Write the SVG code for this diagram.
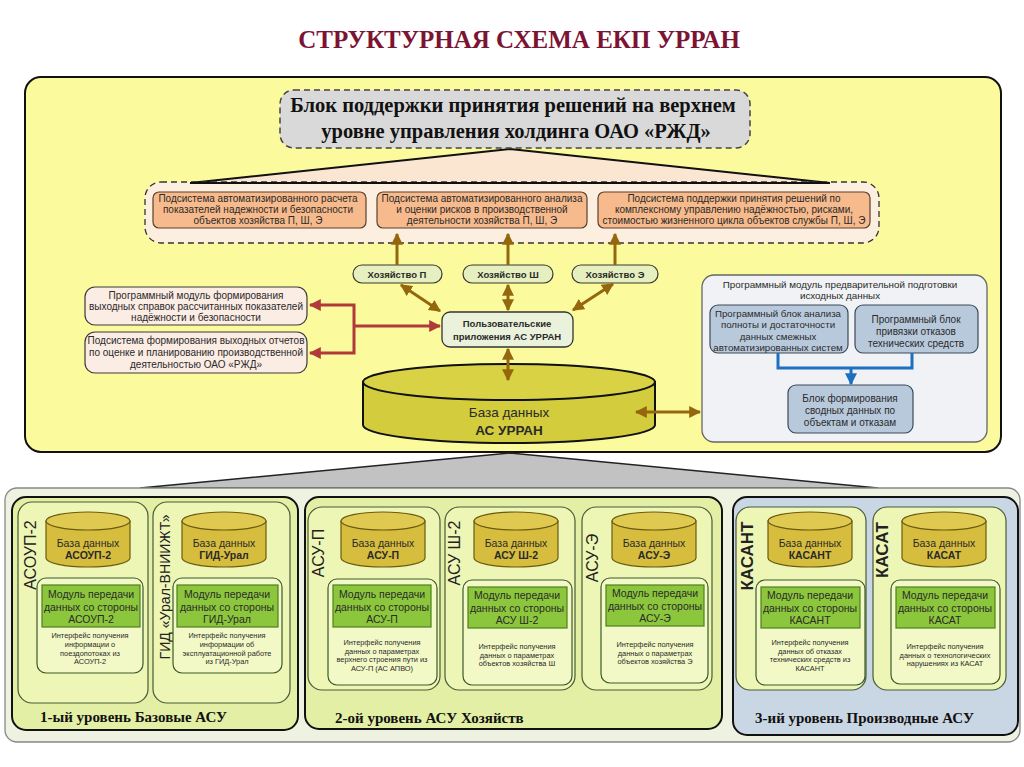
<svg xmlns="http://www.w3.org/2000/svg" width="1024" height="767" viewBox="0 0 1024 767">
<defs>
<style>
.t{font-family:"Liberation Sans",Arial,sans-serif;fill:#2a2a2a;text-anchor:middle}
.b{font-weight:bold}
.hd{font-family:"Liberation Serif","Times New Roman",serif;font-weight:bold;fill:#111}
.f95{font-size:9.5px}
.f10{font-size:10px}
.f105{font-size:10.5px}
.f75{font-size:7.4px}
.orange{fill:#f7ba8c;stroke:#5a4030;stroke-width:1.2}
.pill{fill:#e6efc0;stroke:#3a3a2a;stroke-width:1.2}
.pink{fill:#fbece4;stroke:#3a3a3a;stroke-width:1.2}
.bluebox{fill:#b9c9dc;stroke:#3a4a5a;stroke-width:1.2}
.grp{fill:#e3efa4;stroke:#111;stroke-width:2}
.col{fill:#edf6b4;stroke:#4a5a3a;stroke-width:1.2}
.inner{fill:#f3f9c6;stroke:#3a5a2a;stroke-width:1.2}
.green{fill:#8cc63c;stroke:#4f7f1f;stroke-width:1.2}
.cyl{fill:#d7bd3e;stroke:#6a5a10;stroke-width:1.2}
.cyltop{fill:#e0c950;stroke:#6a5a10;stroke-width:1.2}
.br{stroke:#94670f;stroke-width:3;fill:none}
.rd{stroke:#b03a3a;stroke-width:3;fill:none}
.bl{stroke:#1f6fc0;stroke-width:3;fill:none}
.sr{stroke:#d2461c;stroke-width:2.5;fill:none}
.vl{font-family:"Liberation Sans",Arial,sans-serif;fill:#222;text-anchor:middle;font-size:16px}
</style>
<marker id="ab" viewBox="0 0 10 10" refX="9" refY="5" markerWidth="4" markerHeight="4" orient="auto-start-reverse"><path d="M0,0 L10,5 L0,10 z" fill="#94670f"/></marker>
<marker id="ar" viewBox="0 0 10 10" refX="9" refY="5" markerWidth="4" markerHeight="4" orient="auto-start-reverse"><path d="M0,0 L10,5 L0,10 z" fill="#b03a3a"/></marker>
<marker id="abl" viewBox="0 0 10 10" refX="9" refY="5" markerWidth="4" markerHeight="4" orient="auto"><path d="M0,0 L10,5 L0,10 z" fill="#1f6fc0"/></marker>
<marker id="asr" viewBox="0 0 10 10" refX="9" refY="5" markerWidth="4" markerHeight="4" orient="auto"><path d="M0,0 L10,5 L0,10 z" fill="#d2461c"/></marker>
</defs>
<rect width="1024" height="767" fill="#ffffff"/>
<text x="519" y="48" class="hd" style="font-size:25px;fill:#7c1333;text-anchor:middle">СТРУКТУРНАЯ СХЕМА ЕКП УРРАН</text>

<!-- main panel -->
<g id="main-panel">
<rect x="25" y="77" width="976" height="375" rx="16" fill="#fbfa9c" stroke="#111" stroke-width="2"/>
</g>

<!-- funnels -->
<g id="funnels">
<path d="M510,149 L190,183 L830,183 Z" fill="#fbe6d2" stroke="none"/>
<path d="M190,183 L510,149 L830,183" fill="none" stroke="#111" stroke-width="2"/>
<path d="M510,453 L140,488 L878,488 Z" fill="#c2c2c2" stroke="#222" stroke-width="1.5"/>
</g>

<g id="top-block">
<rect x="280" y="90" width="470" height="58" rx="14" fill="#d9d9d9" stroke="#444" stroke-width="1.5" stroke-dasharray="6,4"/>
<text x="513" y="112" class="hd" style="font-size:20.5px;text-anchor:middle">Блок поддержки принятия решений на верхнем</text>
<text x="516" y="138" class="hd" style="font-size:20.5px;text-anchor:middle">уровне управления холдинга ОАО «РЖД»</text>
</g>

<g id="subsystems">
<rect x="145" y="182" width="734" height="61" rx="16" fill="#fcefe0" stroke="#333" stroke-width="1.3" stroke-dasharray="6,4"/>
<line x1="190" y1="183" x2="830" y2="183" stroke="#111" stroke-width="2"/>
</g>

<g id="sub1">
<rect x="153" y="192" width="213" height="36" rx="6" class="orange"/>
<text class="t f10"><tspan x="258" y="202">Подсистема автоматизированного расчета</tspan><tspan x="258" y="213">показателей надежности и безопасности</tspan><tspan x="258" y="224">объектов хозяйства П, Ш, Э</tspan></text>
</g>
<g id="sub2">
<rect x="377" y="192" width="210" height="36" rx="6" class="orange"/>
<text class="t f10"><tspan x="482" y="202">Подсистема автоматизированного анализа</tspan><tspan x="482" y="213">и оценки рисков в производственной</tspan><tspan x="482" y="224">деятельности хозяйства П, Ш, Э</tspan></text>
</g>
<g id="sub3">
<rect x="598" y="192" width="272" height="36" rx="6" class="orange"/>
<text class="t f10"><tspan x="734" y="202">Подсистема поддержки принятия решений по</tspan><tspan x="734" y="213">комплексному управлению надёжностью, рисками,</tspan><tspan x="734" y="224">стоимостью жизненного цикла объектов службы П, Ш, Э</tspan></text>
</g>

<g id="hoz-p">
<rect x="353" y="265" width="89" height="18" rx="9" class="pill"/>
<text x="397" y="277.5" class="t b f95">Хозяйство П</text>
</g>
<g id="hoz-sh">
<rect x="463" y="265" width="90" height="18" rx="9" class="pill"/>
<text x="508" y="277.5" class="t b f95">Хозяйство Ш</text>
</g>
<g id="hoz-e">
<rect x="572" y="265" width="86" height="18" rx="9" class="pill"/>
<text x="615" y="277.5" class="t b f95">Хозяйство Э</text>
</g>

<g id="user-apps">
<rect x="442" y="312" width="131" height="35" rx="8" fill="#eaf2dc" stroke="#333" stroke-width="1.3"/>
<text class="t b f95"><tspan x="507" y="327">Пользовательские</tspan><tspan x="507" y="340">приложения АС УРРАН</tspan></text>
</g>

<g id="out-module">
<rect x="85" y="287" width="222" height="38" rx="10" class="pink"/>
<text class="t f10"><tspan x="196" y="299">Программный модуль формирования</tspan><tspan x="196" y="310">выходных справок рассчитанных показателей</tspan><tspan x="196" y="321">надёжности и безопасности</tspan></text>
</g>
<g id="out-reports">
<rect x="85" y="332" width="222" height="41" rx="10" class="pink"/>
<text class="t f10"><tspan x="196" y="344">Подсистема формирования выходных отчетов</tspan><tspan x="196" y="356">по оценке и планированию производственной</tspan><tspan x="196" y="368">деятельностью ОАО «РЖД»</tspan></text>
</g>

<g id="db-main">
<path d="M363,382 L363,425 A146,18 0 0 0 655,425 L655,382 Z" fill="#d3cc3c" stroke="#111" stroke-width="2"/>
<ellipse cx="509" cy="382" rx="146" ry="18" fill="#d8d244" stroke="#111" stroke-width="2"/>
<text x="509" y="417" class="t" style="font-size:13.5px">База данных</text>
<text x="509" y="435" class="t b" style="font-size:13.5px">АС УРРАН</text>
</g>

<g id="prep-module">
<rect x="702" y="275" width="285" height="167" rx="12" fill="#f0f2f5" stroke="#666" stroke-width="1.3"/>
<text class="t" style="font-size:9.8px"><tspan x="840" y="288">Программный модуль предварительной подготовки</tspan><tspan x="840" y="299">исходных данных</tspan></text>
</g>
<g id="prep-b1">
<rect x="710" y="305" width="138" height="48" rx="8" class="bluebox"/>
<text class="t" style="font-size:9.7px"><tspan x="778" y="317">Программный блок анализа</tspan><tspan x="778" y="328">полноты и достаточности</tspan><tspan x="778" y="340">данных смежных</tspan><tspan x="778" y="351">автоматизированных систем</tspan></text>
</g>
<g id="prep-b2">
<rect x="855" y="305" width="123" height="48" rx="8" class="bluebox"/>
<text class="t f10"><tspan x="916" y="323">Программный блок</tspan><tspan x="916" y="335">привязки отказов</tspan><tspan x="916" y="347">технических средств</tspan></text>
</g>
<g id="prep-b3">
<rect x="788" y="385" width="125" height="48" rx="8" class="bluebox"/>
<text class="t f10"><tspan x="850" y="402">Блок формирования</tspan><tspan x="850" y="414">сводных данных по</tspan><tspan x="850" y="426">объектам и отказам</tspan></text>
</g>

<!-- connectors -->
<g id="connectors">
<line x1="397" y1="265" x2="397" y2="234" class="br" marker-end="url(#ab)"/>
<line x1="508" y1="265" x2="508" y2="234" class="br" marker-end="url(#ab)"/>
<line x1="615" y1="265" x2="615" y2="234" class="br" marker-end="url(#ab)"/>
<line x1="401" y1="285" x2="440" y2="311" class="br" marker-start="url(#ab)" marker-end="url(#ab)"/>
<line x1="508" y1="285" x2="508" y2="310" class="br" marker-start="url(#ab)" marker-end="url(#ab)"/>
<line x1="613" y1="284" x2="573" y2="310" class="br" marker-start="url(#ab)" marker-end="url(#ab)"/>
<line x1="508" y1="349" x2="508" y2="380" class="br" marker-start="url(#ab)" marker-end="url(#ab)"/>
<line x1="636" y1="412" x2="700" y2="412" class="br" marker-start="url(#ab)" marker-end="url(#ab)"/>
<line x1="354" y1="326" x2="440" y2="326" class="rd" marker-end="url(#ar)"/>
<path d="M310,305 L354,305 L354,353 L310,353" class="rd" marker-start="url(#ar)" marker-end="url(#ar)"/>
<path d="M778,353 L778,368 L912,368 L912,353" class="bl"/>
<line x1="851" y1="368" x2="851" y2="384" class="bl" marker-end="url(#abl)"/>
<line x1="88" y1="567" x2="88" y2="585" class="sr" marker-end="url(#asr)"/>
<line x1="224" y1="567" x2="224" y2="585" class="sr" marker-end="url(#asr)"/>
<line x1="383" y1="567" x2="383" y2="585" class="sr" marker-end="url(#asr)"/>
<line x1="516" y1="567" x2="516" y2="586" class="sr" marker-end="url(#asr)"/>
<line x1="654" y1="567" x2="654" y2="584" class="sr" marker-end="url(#asr)"/>
<line x1="810" y1="567" x2="810" y2="586" class="sr" marker-end="url(#asr)"/>
<line x1="944" y1="567" x2="944" y2="586" class="sr" marker-end="url(#asr)"/>
</g>

<!-- bottom -->
<g id="bottom-frame">
<rect x="5" y="488" width="1015" height="254" rx="12" fill="#eef2e0" stroke="#888" stroke-width="1.3"/>
</g>

<g id="level1">
<rect x="12" y="497" width="286" height="233" rx="14" class="grp"/>
<rect x="18" y="502" width="130" height="201" rx="14" class="col"/>
<rect x="153" y="502" width="137" height="201" rx="14" class="col"/>
<text x="40" y="722" class="hd" style="font-size:15px">1-ый уровень Базовые АСУ</text>
<text transform="translate(36,555) rotate(-90)" class="vl">АСОУП-2</text>
<text transform="translate(170,587) rotate(-90)" class="vl" style="font-size:15px" textLength="145" lengthAdjust="spacingAndGlyphs">ГИД «Урал-ВНИИЖТ»</text>
</g>
<g id="level2">
<rect x="305" y="497" width="417" height="232" rx="14" class="grp"/>
<rect x="308" y="507" width="132" height="183" rx="14" class="col"/>
<rect x="445" y="507" width="130" height="183" rx="14" class="col"/>
<rect x="582" y="507" width="130" height="183" rx="14" class="col"/>
<text x="335" y="723" class="hd" style="font-size:15px">2-ой уровень АСУ Хозяйств</text>
<text transform="translate(324,553) rotate(-90)" class="vl">АСУ-П</text>
<text transform="translate(460,553) rotate(-90)" class="vl">АСУ Ш-2</text>
<text transform="translate(598,558) rotate(-90)" class="vl">АСУ-Э</text>
</g>
<g id="level3">
<rect x="733" y="497" width="285" height="238" rx="14" fill="#c9d6e4" stroke="#111" stroke-width="2"/>
<rect x="736" y="507" width="130" height="183" rx="14" class="col"/>
<rect x="873" y="507" width="133" height="183" rx="14" class="col"/>
<text x="755" y="723" class="hd" style="font-size:15px">3-ий уровень Производные АСУ</text>
<text transform="translate(753,556) rotate(-90)" class="vl b" style="font-size:17px">КАСАНТ</text>
<text transform="translate(888,550) rotate(-90)" class="vl b" style="font-size:17px">КАСАТ</text>
</g>

<g id="asoup">
<path d="M46,521 L46,558 A42,9 0 0 0 130,558 L130,521 Z" class="cyl"/>
<ellipse cx="88" cy="521" rx="42" ry="9" class="cyltop"/>
<text x="88" y="547" class="t f105">База данных</text><text x="88" y="559" class="t b f105">АСОУП-2</text>
<rect x="37" y="578" width="106" height="95" rx="9" class="inner"/>
<rect x="42" y="585" width="98" height="42" class="green"/>
<text class="t f105"><tspan x="91" y="598">Модуль передачи</tspan><tspan x="91" y="611">данных со стороны</tspan><tspan x="91" y="623">АСОУП-2</tspan></text>
<text class="t f75"><tspan x="90" y="638">Интерфейс получения</tspan><tspan x="90" y="647">информации о</tspan><tspan x="90" y="655.5">поездопотоках из</tspan><tspan x="90" y="664">АСОУП-2</tspan></text>
</g>
<g id="gid">
<path d="M182,521 L182,558 A42,9 0 0 0 266,558 L266,521 Z" class="cyl"/>
<ellipse cx="224" cy="521" rx="42" ry="9" class="cyltop"/>
<text x="224" y="547" class="t f105">База данных</text><text x="224" y="559" class="t b f105">ГИД-Урал</text>
<rect x="173" y="578" width="109" height="95" rx="9" class="inner"/>
<rect x="177" y="585" width="101" height="42" class="green"/>
<text class="t f105"><tspan x="227" y="598">Модуль передачи</tspan><tspan x="227" y="611">данных со стороны</tspan><tspan x="227" y="623">ГИД-Урал</tspan></text>
<text class="t f75"><tspan x="227" y="638">Интерфейс получения</tspan><tspan x="227" y="647">информации об</tspan><tspan x="227" y="655.5">эксплуатационной работе</tspan><tspan x="227" y="664">из ГИД-Урал</tspan></text>
</g>
<g id="asu-p">
<path d="M341,521 L341,558 A42,9 0 0 0 425,558 L425,521 Z" class="cyl"/>
<ellipse cx="383" cy="521" rx="42" ry="9" class="cyltop"/>
<text x="383" y="547" class="t f105">База данных</text><text x="383" y="559" class="t b f105">АСУ-П</text>
<rect x="328" y="579" width="109" height="106" rx="9" class="inner"/>
<rect x="333" y="585" width="98" height="42" class="green"/>
<text class="t f105"><tspan x="382" y="598">Модуль передачи</tspan><tspan x="382" y="611">данных со стороны</tspan><tspan x="382" y="623">АСУ-П</tspan></text>
<text class="t f75"><tspan x="382" y="645">Интерфейс получения</tspan><tspan x="382" y="653.5">данных о параметрах</tspan><tspan x="382" y="662">верхнего строения пути из</tspan><tspan x="382" y="670.5">АСУ-П (АС АПВО)</tspan></text>
</g>
<g id="asu-sh">
<path d="M474,521 L474,558 A42,9 0 0 0 558,558 L558,521 Z" class="cyl"/>
<ellipse cx="516" cy="521" rx="42" ry="9" class="cyltop"/>
<text x="516" y="547" class="t f105">База данных</text><text x="516" y="559" class="t b f105">АСУ Ш-2</text>
<rect x="463" y="580" width="109" height="105" rx="9" class="inner"/>
<rect x="468" y="587" width="99" height="41" class="green"/>
<text class="t f105"><tspan x="517" y="599">Модуль передачи</tspan><tspan x="517" y="612">данных со стороны</tspan><tspan x="517" y="624">АСУ Ш-2</tspan></text>
<text class="t f75"><tspan x="517" y="649">Интерфейс получения</tspan><tspan x="517" y="657.5">данных о параметрах</tspan><tspan x="517" y="666">объектов хозяйства Ш</tspan></text>
</g>
<g id="asu-e">
<path d="M612,521 L612,558 A42,9 0 0 0 696,558 L696,521 Z" class="cyl"/>
<ellipse cx="654" cy="521" rx="42" ry="9" class="cyltop"/>
<text x="654" y="547" class="t f105">База данных</text><text x="654" y="559" class="t b f105">АСУ-Э</text>
<rect x="601" y="578" width="107" height="105" rx="9" class="inner"/>
<rect x="606" y="585" width="98" height="41" class="green"/>
<text class="t f105"><tspan x="655" y="597">Модуль передачи</tspan><tspan x="655" y="610">данных со стороны</tspan><tspan x="655" y="622">АСУ-Э</tspan></text>
<text class="t f75"><tspan x="655" y="647">Интерфейс получения</tspan><tspan x="655" y="655.5">данных о параметрах</tspan><tspan x="655" y="664">объектов хозяйства Э</tspan></text>
</g>
<g id="kasant">
<path d="M768,521 L768,558 A42,9 0 0 0 852,558 L852,521 Z" class="cyl"/>
<ellipse cx="810" cy="521" rx="42" ry="9" class="cyltop"/>
<text x="810" y="547" class="t f105">База данных</text><text x="810" y="559" class="t b f105">КАСАНТ</text>
<rect x="756" y="580" width="109" height="105" rx="9" class="inner"/>
<rect x="761" y="587" width="99" height="41" class="green"/>
<text class="t f105"><tspan x="810" y="599">Модуль передачи</tspan><tspan x="810" y="612">данных со стороны</tspan><tspan x="810" y="624">КАСАНТ</tspan></text>
<text class="t f75"><tspan x="810" y="645">Интерфейс получения</tspan><tspan x="810" y="653.5">данных об отказах</tspan><tspan x="810" y="662">технических средств из</tspan><tspan x="810" y="670.5">КАСАНТ</tspan></text>
</g>
<g id="kasat">
<path d="M902,521 L902,558 A42,9 0 0 0 986,558 L986,521 Z" class="cyl"/>
<ellipse cx="944" cy="521" rx="42" ry="9" class="cyltop"/>
<text x="944" y="547" class="t f105">База данных</text><text x="944" y="559" class="t b f105">КАСАТ</text>
<rect x="891" y="580" width="109" height="104" rx="9" class="inner"/>
<rect x="896" y="587" width="99" height="41" class="green"/>
<text class="t f105"><tspan x="945" y="599">Модуль передачи</tspan><tspan x="945" y="612">данных со стороны</tspan><tspan x="945" y="624">КАСАТ</tspan></text>
<text class="t f75"><tspan x="945" y="649">Интерфейс получения</tspan><tspan x="945" y="657.5">данных о технологических</tspan><tspan x="945" y="666">нарушениях из КАСАТ</tspan></text>
</g>
</svg>
